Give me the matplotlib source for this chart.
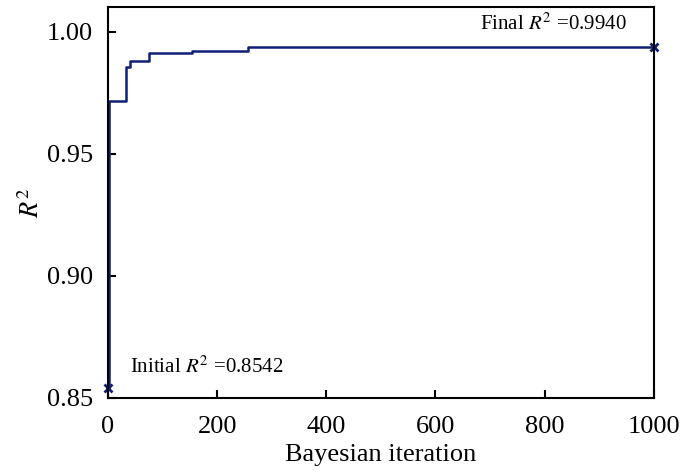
import numpy as np
import matplotlib.pyplot as plt

plt.rcParams['font.family'] = ['Liberation Serif', 'DejaVu Serif']
plt.rcParams['mathtext.fontset'] = 'stix'

# best R^2 so far, at the iterations where it improved
iters = [0, 1, 33, 40, 76, 153, 257, 1000]
best_r2 = [0.8542, 0.9717, 0.9858, 0.9881, 0.9913, 0.9923, 0.9940, 0.9940]
r2_init = 0.8542
r2_final = 0.9940

fig = plt.figure(figsize=(6.81, 4.72), dpi=100)
ax = fig.add_axes([0.1586, 0.1568, 0.8014, 0.8282])

col = '#0f1f78'
ax.plot(iters, best_r2, drawstyle='steps-post', color=col, lw=1.8)
ax.plot([iters[0], iters[-1]], [r2_init, r2_final], 'x', color=col, ms=6, mew=2, clip_on=False)

ax.text(40, 0.8627, 'Initial $R^2$ =%.4f' % r2_init, fontsize=15, va='center', ha='left')
ax.text(950, 1.0033, 'Final $R^2$ =%.4f' % r2_final, fontsize=15, va='center', ha='right')

ax.set_xlim(0, 1000)
ax.set_ylim(0.85, 1.0102)
ax.set_xticks([0, 200, 400, 600, 800, 1000])
ax.set_yticks([0.85, 0.90, 0.95, 1.00])
ax.set_yticklabels(['0.85', '0.90', '0.95', '1.00'])
ax.tick_params(direction='in', length=6, width=1.5, labelsize=19, top=False, right=False)
ax.tick_params(axis='x', pad=13)
ax.tick_params(axis='y', pad=11)
for s in ax.spines.values():
    s.set_linewidth(1.5)

ax.set_xlabel('Bayesian iteration', fontsize=19, labelpad=4)
ax.set_ylabel('$R^2$', fontsize=19, labelpad=2)

fig.savefig('out.png', dpi=100)
